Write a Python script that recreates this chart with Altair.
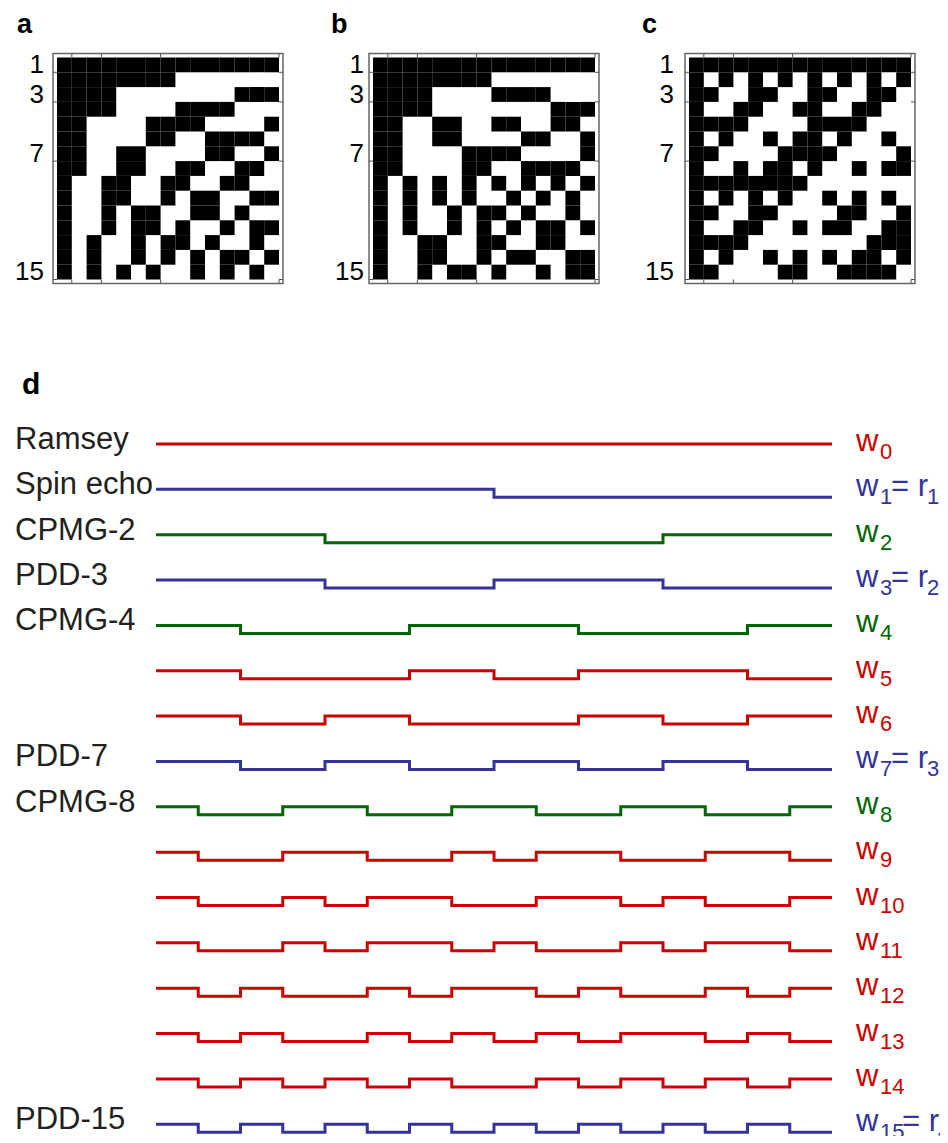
import altair as alt
import pandas as pd

# ---------------- data ----------------
# Walsh functions sampled at 16 points: '1' = +1 (black cell / high level), '0' = -1
walsh_sequency = [
    "1111111111111111",
    "1111111100000000",
    "1111000000001111",
    "1111000011110000",
    "1100001111000011",
    "1100001100111100",
    "1100110000110011",
    "1100110011001100",
    "1001100110011001",
    "1001100101100110",
    "1001011001101001",
    "1001011010010110",
    "1010010110100101",
    "1010010101011010",
    "1010101001010101",
    "1010101010101010",
]
walsh_paley = [
    "1111111111111111",
    "1111111100000000",
    "1111000011110000",
    "1111000000001111",
    "1100110011001100",
    "1100110000110011",
    "1100001111000011",
    "1100001100111100",
    "1010101010101010",
    "1010101001010101",
    "1010010110100101",
    "1010010101011010",
    "1001100110011001",
    "1001100101100110",
    "1001011010010110",
    "1001011001101001",
]
walsh_hadamard = [
    "1111111111111111",
    "1010101010101010",
    "1100110011001100",
    "1001100110011001",
    "1111000011110000",
    "1010010110100101",
    "1100001111000011",
    "1001011010010110",
    "1111111100000000",
    "1010101001010101",
    "1100110000110011",
    "1001100101100110",
    "1111000000001111",
    "1010010101011010",
    "1100001100111100",
    "1001011001101001",
]
matrix_size = 15                 # the matrix plots show 15 rows x 15 columns
row_tick_labels = [1, 3, 7, 15]
panel_letters = ["a", "b", "c"]

sequence_rows = [0, 1, 2, 3, 4, 7, 8, 15]
sequence_names = ["Ramsey", "Spin echo", "CPMG-2", "PDD-3", "CPMG-4",
                  "PDD-7", "CPMG-8", "PDD-15"]
row_family = ["Walsh", "Rademacher", "CPMG", "Rademacher", "CPMG", "Walsh",
              "Walsh", "Rademacher", "CPMG", "Walsh", "Walsh", "Walsh",
              "Walsh", "Walsh", "Walsh", "Rademacher"]
rademacher_rows = [1, 3, 7, 15]
rademacher_index = [1, 2, 3, 4]
family_domain = ["Walsh", "Rademacher", "CPMG"]
family_colors = ["#cc0000", "#333399", "#006600"]

# ---------------- layout constants (pixels) ----------------
FONT = "Liberation Sans"
CELL = 14.8
INSET = 4.0
MAT_X0, MAT_Y0 = 49.0, 49.5
VIEW_W, VIEW_H = 277, 277
letter_x = [9, 7, 2]
label_right = [36, 40, 34]

D_W, D_H = 932, 775
ROW_PX = 45.35
ROW0_Y = 83.0
T_X0 = 148.0
T_PX = 42.25
AMP = 8.0 / ROW_PX


def matrix_panel(rows, letter, lx, lr):
    n = matrix_size
    cells = pd.DataFrame([{"row": r, "col": c, "v": int(rows[r][c])}
                          for r in range(n) for c in range(n)])
    xs = alt.Scale(domain=[-MAT_X0 / CELL, (VIEW_W - MAT_X0) / CELL], nice=False, zero=False)
    ys = alt.Scale(domain=[-MAT_Y0 / CELL, (VIEW_H - MAT_Y0) / CELL], nice=False, zero=False,
                   reverse=True)
    ins = INSET / CELL

    cell_chart = (
        alt.Chart(cells)
        .transform_filter("datum.v == 1")
        .transform_calculate(col2="datum.col + 1", row2="datum.row + 1")
        .mark_rect(color="black")
        .encode(x=alt.X("col:Q", scale=xs, axis=None), x2="col2:Q",
                y=alt.Y("row:Q", scale=ys, axis=None), y2="row2:Q")
    )
    frame_df = pd.DataFrame({"x1": [-ins], "x2": [n + ins], "y1": [-ins], "y2": [n + ins]})
    frame = (
        alt.Chart(frame_df)
        .mark_rect(fillOpacity=0, stroke="#666666", strokeWidth=1.5)
        .encode(x=alt.X("x1:Q", scale=xs, axis=None), x2="x2:Q",
                y=alt.Y("y1:Q", scale=ys, axis=None), y2="y2:Q")
    )
    tk = []
    for b in row_tick_labels:
        tk.append({"x1": -ins, "x2": 0, "y1": b, "y2": b})
        tk.append({"x1": n, "x2": n + ins, "y1": b, "y2": b})
        tk.append({"x1": b, "x2": b, "y1": -ins, "y2": 0})
        tk.append({"x1": b, "x2": b, "y1": n, "y2": n + ins})
    ticks = (
        alt.Chart(pd.DataFrame(tk))
        .mark_rule(color="#555555", strokeWidth=1)
        .encode(x=alt.X("x1:Q", scale=xs, axis=None), x2="x2:Q",
                y=alt.Y("y1:Q", scale=ys, axis=None), y2="y2:Q")
    )
    labels = (
        alt.Chart(pd.DataFrame({"label": row_tick_labels}))
        .transform_calculate(yc="datum.label - 0.5")
        .mark_text(align="right", baseline="middle", font=FONT, fontSize=26, color="black")
        .encode(x=alt.value(lr), y=alt.Y("yc:Q", scale=ys, axis=None), text="label:N")
    )
    letter_chart = (
        alt.Chart(pd.DataFrame({"letter": [letter]}))
        .mark_text(align="left", baseline="alphabetic", font=FONT, fontSize=27,
                   fontWeight="bold", color="black")
        .encode(x=alt.value(lx), y=alt.value(25), text="letter:N")
    )
    return alt.layer(cell_chart, frame, ticks, labels, letter_chart).properties(
        width=VIEW_W, height=VIEW_H)


pa = matrix_panel(walsh_sequency, panel_letters[0], letter_x[0], label_right[0])
pb = matrix_panel(walsh_paley, panel_letters[1], letter_x[1], label_right[1])
pc = matrix_panel(walsh_hadamard, panel_letters[2], letter_x[2], label_right[2])

# ---------------- panel d ----------------
recs = []
for k, s in enumerate(walsh_sequency):
    vals = [int(ch) for ch in s]
    for t, v in enumerate(vals + [vals[-1]]):
        recs.append({"k": k, "t": t, "v": v, "family": row_family[k]})
lines_df = pd.DataFrame(recs)

xs_d = alt.Scale(domain=[-T_X0 / T_PX, (D_W - T_X0) / T_PX], nice=False, zero=False)
ys_d = alt.Scale(domain=[-ROW0_Y / ROW_PX, (D_H - ROW0_Y) / ROW_PX], nice=False, zero=False,
                 reverse=True)
col_enc = alt.Color("family:N", scale=alt.Scale(domain=family_domain, range=family_colors),
                    legend=None)

lines = (
    alt.Chart(lines_df)
    .transform_calculate(ypos=f"datum.k + (1 - datum.v) * {AMP}")
    .mark_line(interpolate="step-after", strokeWidth=3, clip=True)
    .encode(x=alt.X("t:Q", scale=xs_d, axis=None),
            y=alt.Y("ypos:Q", scale=ys_d, axis=None),
            color=col_enc, detail="k:N")
)

names_df = pd.DataFrame({"k": sequence_rows, "name": sequence_names})
names = (
    alt.Chart(names_df)
    .mark_text(align="left", baseline="alphabetic", font=FONT, fontSize=31,
               color="#231f20", dy=5)
    .encode(x=alt.value(7), y=alt.Y("k:Q", scale=ys_d, axis=None), text="name:N")
)

wl_df = pd.DataFrame({"k": list(range(16)), "family": row_family,
                      "sub": [str(i) for i in range(16)]})
w_main = (
    alt.Chart(wl_df)
    .mark_text(align="left", baseline="alphabetic", font=FONT, fontSize=31, dy=7, text="w",
               clip=True)
    .encode(x=alt.value(848), y=alt.Y("k:Q", scale=ys_d, axis=None), color=col_enc)
)
w_sub = (
    alt.Chart(wl_df)
    .mark_text(align="left", baseline="alphabetic", font=FONT, fontSize=22, dy=15, clip=True)
    .encode(x=alt.value(872), y=alt.Y("k:Q", scale=ys_d, axis=None), color=col_enc,
            text="sub:N")
)
rad_df = pd.DataFrame({"k": rademacher_rows, "r": [str(i) for i in rademacher_index],
                       "family": [row_family[k] for k in rademacher_rows]})
rad_base = alt.Chart(rad_df).transform_calculate(
    eqx="883 + (datum.k >= 10 ? 11 : 0)", subx="919 + (datum.k >= 10 ? 11 : 0)")
r_eq = rad_base.mark_text(align="left", baseline="alphabetic", font=FONT, fontSize=31,
                          dy=7, text="= r", clip=True).encode(
    x=alt.X("eqx:Q", scale=None), y=alt.Y("k:Q", scale=ys_d, axis=None), color=col_enc)
r_sub = rad_base.mark_text(align="left", baseline="alphabetic", font=FONT, fontSize=22,
                           dy=15, clip=True).encode(
    x=alt.X("subx:Q", scale=None), y=alt.Y("k:Q", scale=ys_d, axis=None), color=col_enc,
    text="r:N")

d_letter = (
    alt.Chart(pd.DataFrame({"letter": ["d"]}))
    .mark_text(align="left", baseline="alphabetic", font=FONT, fontSize=30,
               fontWeight="bold", color="black")
    .encode(x=alt.value(14), y=alt.value(33), text="letter:N")
)

pd_chart = alt.layer(lines, names, w_main, w_sub, r_eq, r_sub, d_letter).properties(
    width=D_W, height=D_H)

top = alt.hconcat(pa, pb, pc, spacing=39, bounds="flush")
chart = (
    alt.vconcat(top, pd_chart, spacing=75, bounds="full")
    .properties(padding=0)
    .configure_view(stroke=None)
)

chart.save("out.html", embed_options={"renderer": "svg", "actions": False})
